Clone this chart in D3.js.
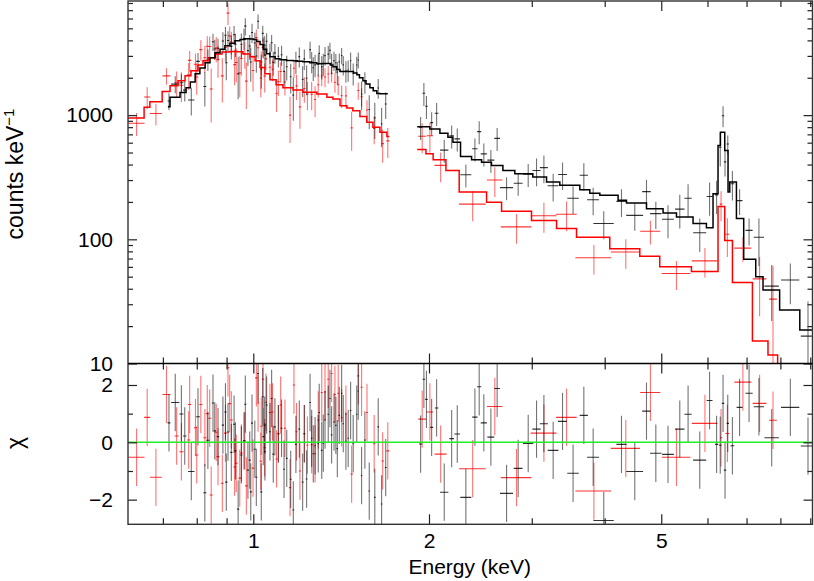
<!DOCTYPE html>
<html>
<head>
<meta charset="utf-8">
<script src="https://cdn.jsdelivr.net/npm/d3@7"></script>
<style>
    body { margin: 0; background: #fff; }
    svg { display: block; font-family: "Liberation Sans", Arial, Helvetica, sans-serif; }
</style>
</head>
<body>
<div id="chart"></div>
<script>
// model curves: [energy keV, counts keV^-1], drawn as steps
const blackModelLo = [[0.714,1170],[0.720,1390],[0.749,1524],[0.767,1663],[0.780,1850],[0.795,2150],[0.810,2400],[0.827,2640],[0.843,2900],[0.860,3178],[0.877,3400],[0.894,3616],[0.912,3800],[0.930,3966],[0.949,4070],[0.968,4115],[0.987,4110],[1.000,4060],[1.013,3920],[1.027,3700],[1.040,3400],[1.054,3120],[1.068,2951],[1.090,2850],[1.111,2791],[1.140,2760],[1.170,2740],[1.190,2720],[1.216,2690],[1.250,2640],[1.285,2592],[1.310,2610],[1.337,2606],[1.355,2530],[1.369,2453],[1.390,2330],[1.408,2248],[1.430,2250],[1.464,2248],[1.485,2180],[1.505,2115],[1.520,2000],[1.541,1893],[1.560,1780],[1.584,1663],[1.605,1570],[1.628,1496],[1.650,1490],[1.700,1490]];
const redModelLo = [[0.610,950],[0.650,1155],[0.665,1283],[0.698,1553],[0.720,1726],[0.743,1893],[0.764,2076],[0.782,2278],[0.804,2531],[0.820,2740],[0.837,2896],[0.860,3100],[0.884,3225],[0.912,3254],[0.938,3236],[0.960,3101],[0.987,2951],[1.007,2740],[1.027,2421],[1.047,2154],[1.068,1928],[1.094,1758],[1.124,1663],[1.170,1594],[1.216,1530],[1.285,1480],[1.337,1395],[1.369,1349],[1.408,1192],[1.447,1142],[1.481,1087],[1.523,973],[1.565,875],[1.603,798],[1.648,728],[1.694,672],[1.710,672]];
const blackModelHi = [[1.909,808],[2.007,775],[2.088,714],[2.155,663],[2.198,605],[2.265,464],[2.366,437],[2.461,418],[2.559,393],[2.677,358],[2.806,337],[3.012,317],[3.180,289],[3.351,272],[3.626,251],[3.772,235],[3.924,226],[4.217,206],[4.359,196],[4.717,176],[5.036,163],[5.309,151],[5.668,134],[5.975,124],[6.133,233],[6.255,569],[6.314,728],[6.423,519],[6.507,240],[6.551,289],[6.726,147],[6.922,69],[7.258,50],[7.470,39],[7.976,27],[8.636,18.6],[9.087,18.6]];
const redModelHi = [[1.909,528],[1.976,488],[2.033,437],[2.138,358],[2.253,240],[2.510,199],[2.663,168],[2.997,142],[3.308,122],[3.579,104],[4.081,84],[4.594,73],[4.970,60],[5.632,55],[6.255,184],[6.423,98],[6.621,45],[7.164,15.2],[7.618,11.7],[7.913,8.9],[8.200,8.9]];

// data points: [energy, half bin width, counts, error, chi]
const blackPoints = [
    [0.717,0.004,1300,200,0.68],[0.735,0.012,1776,278,1.39],[0.753,0.006,1825,305,0.99],[0.763,0.005,1590,305,0.22],
    [0.783,0.010,1325,333,-1.02],[0.804,0.006,2710,460,0.89],[0.826,0.005,1700,524,-1.76],[0.836,0.005,2820,556,0.07],
    [0.853,0.004,3900,612,1.37],[0.859,0.004,3410,632,0.40],[0.870,0.004,3460,666,0.20],[0.887,0.004,3950,706,0.60],
    [0.896,0.004,4400,726,1.06],[0.899,0.004,2640,730,-1.39],[0.905,0.004,3990,744,0.36],[0.917,0.004,3580,770,-0.35],
    [0.927,0.004,4440,788,0.63],[0.932,0.004,3730,794,-0.30],[0.942,0.004,2150,806,-2.33],[0.954,0.004,3720,816,-0.44],
    [0.964,0.004,4150,822,0.05],[0.969,0.004,5210,823,1.33],[0.979,0.004,3310,822,-0.97],[0.986,0.004,3600,822,-0.62],
    [0.990,0.004,2680,820,-1.73],[0.995,0.004,4630,816,0.67],[1.006,0.004,3810,800,-0.24],[1.012,0.004,2990,792,-1.22],
    [1.019,0.004,5700,770,2.40],[1.032,0.004,2350,720,-1.73],[1.038,0.004,4550,690,1.59],[1.040,0.004,3540,680,0.20],
    [1.046,0.004,3670,656,0.60],[1.047,0.004,3045,652,-0.33],[1.054,0.004,3930,624,1.30],[1.068,0.004,3170,590,0.37],
    [1.075,0.004,3830,586,1.53],[1.082,0.004,2660,580,-0.41],[1.089,0.004,3170,572,0.54],[1.104,0.004,2980,562,0.30],
    [1.118,0.004,3060,557,0.49],[1.129,0.004,2250,554,-0.94],[1.141,0.004,2450,552,-0.56],[1.159,0.004,2040,549,-1.29],
    [1.171,0.004,1450,548,-2.36],[1.183,0.004,2690,545,-0.07],[1.199,0.004,2960,542,0.46],[1.215,0.004,1940,538,-1.39],
    [1.223,0.004,2840,536,0.30],[1.234,0.004,1980,533,-1.28],[1.251,0.004,3370,528,1.39],[1.259,0.004,2700,526,0.14],
    [1.267,0.004,2405,523,-0.40],[1.276,0.004,2540,520,-0.12],[1.292,0.004,2570,519,-0.05],[1.297,0.004,3140,520,1.04],
    [1.310,0.004,2460,522,-0.28],[1.318,0.004,2600,522,-0.03],[1.327,0.004,3015,522,0.78],[1.344,0.004,3100,518,0.98],
    [1.353,0.004,3320,508,1.53],[1.362,0.004,2620,498,0.26],[1.375,0.004,2750,482,0.71],[1.385,0.004,2640,472,0.59],
    [1.393,0.004,2220,464,-0.22],[1.404,0.004,2685,452,0.94],[1.417,0.004,3020,450,1.71],[1.426,0.004,2540,450,0.65],
    [1.441,0.004,2270,450,0.04],[1.454,0.004,2310,450,0.14],[1.468,0.004,2740,448,1.11],[1.483,0.004,2170,438,-0.05],
    [1.504,0.004,2530,423,0.98],[1.513,0.004,2780,410,1.79],[1.533,0.004,1480,386,-1.16],[1.553,0.005,1850,364,0.08],
    [1.580,0.005,1110,336,-1.70],[1.615,0.005,950,308,-1.92],[1.637,0.005,1655,299,0.54],[1.659,0.005,850,298,-2.15],
    [1.686,0.006,1230,298,-0.88],
    [1.935,0.012,798,168,-0.06],[1.960,0.010,1502,315,2.20],[1.980,0.010,1180,248,1.50],[2.021,0.012,870,183,0.52],
    [2.061,0.015,1036,218,1.20],[2.124,0.035,523,110,-1.74],[2.187,0.020,681,143,0.13],[2.236,0.025,644,135,0.29],
    [2.313,0.050,331,70,-1.92],[2.397,0.025,536,113,0.88],[2.438,0.020,737,155,1.94],[2.483,0.030,488,102,0.68],
    [2.553,0.035,434,91,0.18],[2.617,0.030,650,136,1.88],[2.716,0.070,261,55,-1.78],[2.843,0.050,283,59,-0.91],
    [2.958,0.060,334,70,-0.04],[3.057,0.050,358,90,0.46],[3.147,0.050,378,95,0.65],[3.264,0.070,270,68,-0.28],
    [3.387,0.060,333,83,0.73],[3.531,0.080,214,54,-1.08],[3.684,0.060,328,82,0.94],[3.822,0.090,208,52,-0.52],
    [3.985,0.160,134,34,-2.73],[4.274,0.085,202,51,-0.07],[4.504,0.150,156,39,-1.02],[4.717,0.080,242,60,1.09],
    [4.894,0.110,161,40,-0.38],[5.135,0.120,145,43,-0.42],[5.379,0.100,175,53,0.46],[5.558,0.080,214,64,0.98],
    [5.820,0.150,113,34,-0.62],[6.050,0.070,221,66,1.46],[6.220,0.040,228,68,-0.07],[6.310,0.030,552,166,-0.10],
    [6.380,0.030,990,190,1.36],[6.430,0.030,420,100,-0.97],[6.500,0.030,585,100,0.66],[6.620,0.050,280,75,-0.12],
    [6.810,0.080,205,48,1.22],[7.070,0.100,118,29,1.71],[7.350,0.150,104,43,1.24],[7.730,0.220,42,20,0.16],
    [8.320,0.300,47,17,1.22],[8.920,0.250,16.6,15,-0.13]
];
const redPoints = [
    [0.631,0.020,860,180,-0.52],[0.658,0.008,1400,280,0.87],[0.681,0.016,1030,205,-1.22],[0.710,0.011,2070,310,1.67],
    [0.739,0.006,1820,430,0.22],[0.753,0.006,1740,470,-0.33],[0.775,0.005,2110,520,0.08],[0.778,0.005,2760,520,1.32],
    [0.796,0.005,2570,570,0.51],[0.800,0.005,2030,570,-0.44],[0.813,0.005,3370,633,1.32],[0.826,0.005,2900,700,0.16],
    [0.834,0.005,3590,718,1.00],[0.842,0.005,3570,737,0.84],[0.847,0.005,1625,752,-1.84],[0.864,0.005,3465,796,0.35],
    [0.870,0.005,2800,800,-0.50],[0.885,0.005,2070,806,-1.43],[0.896,0.005,3500,810,0.32],[0.905,0.005,6630,1300,2.60],
    [0.911,0.005,4350,814,1.35],[0.917,0.005,3880,812,0.78],[0.929,0.005,2550,811,-0.86],[0.935,0.005,2650,810,-0.73],
    [0.948,0.005,2190,795,-1.25],[0.954,0.005,2860,788,-0.37],[0.967,0.005,3130,772,0.05],[0.973,0.005,1880,758,-1.52],
    [0.999,0.005,2290,740,-0.90],[1.012,0.005,4220,675,2.25],[1.019,0.005,3490,650,1.37],[1.030,0.005,1990,595,-0.66],
    [1.032,0.005,2680,588,0.56],[1.039,0.005,3500,565,2.20],[1.046,0.005,2060,540,-0.19],[1.051,0.005,2840,525,1.40],
    [1.068,0.005,2430,482,1.04],[1.079,0.005,2340,462,1.06],[1.096,0.005,1500,439,-0.58],[1.104,0.005,1860,432,0.30],
    [1.114,0.005,2245,424,1.30],[1.133,0.005,1850,412,0.49],[1.156,0.005,1000,404,-1.58],[1.174,0.005,2385,398,2.00],
    [1.186,0.005,1720,394,0.37],[1.202,0.005,1165,388,-1.00],[1.223,0.005,1640,381,0.30],[1.238,0.005,1475,379,-0.10],
    [1.259,0.005,1470,375,-0.08],[1.276,0.005,1335,371,-0.40],[1.292,0.005,1755,368,0.78],[1.310,0.005,2065,360,1.74],
    [1.327,0.005,2030,352,1.76],[1.344,0.005,2145,346,2.20],[1.362,0.005,2175,340,2.40],[1.380,0.005,1840,325,1.67],
    [1.398,0.005,1755,308,1.71],[1.417,0.005,1435,295,0.86],[1.441,0.005,1430,288,0.98],[1.474,0.006,790,274,-1.11],
    [1.513,0.006,1580,250,2.32],[1.533,0.006,1405,238,1.92],[1.566,0.006,1100,219,1.04],[1.611,0.007,780,198,-0.05],
    [1.666,0.008,590,176,-0.65],[1.700,0.010,620,168,-0.30],
    [1.947,0.030,676,183,0.81],[2.007,0.025,683,184,1.06],[2.094,0.050,394,106,-0.41],[2.376,0.125,192,52,-0.92],
    [2.593,0.080,300,81,1.25],[2.825,0.170,126,34,-1.23],[3.147,0.160,155,42,0.32],[3.441,0.140,159,43,0.87],
    [3.833,0.270,71,19,-1.70],[4.347,0.250,79,21,-0.21],[4.791,0.190,116,25,1.74],[5.309,0.300,53,14,-0.52],
    [5.940,0.300,67,18,0.66],[6.330,0.030,192,52,0.16],[6.490,0.050,110,38,0.31],[6.900,0.230,85,19,2.10],
    [7.370,0.200,48,24,1.36],[7.770,0.120,33,28,0.77]
];

// axis ticks
const xMajorTicks = [1, 2, 5];
const xMinorTicks = [0.7, 0.8, 0.9, 3, 4, 6, 7, 8, 9];
const yMajorTicks = [10, 100, 1000];
const yMinorTicks = [20,30,40,50,60,70,80,90,200,300,400,500,600,700,800,900,2000,3000,4000,5000,6000,7000,8000];
const chiMajorTicks = [-2, 0, 2];
const chiMinorTicks = [-1, 1];

const W = 814, H = 581;
const pLeft = 128, pRight = 812.5, pTop = 1, pMid = 363.5, pBottom = 524.3;

const svg = d3.select("#chart").append("svg")
    .attr("width", W)
    .attr("height", H);

const x = d3.scaleLog().domain([0.61, 9.08]).range([pLeft, pRight]);
const y = d3.scaleLog().domain([10, 8300]).range([pMid, pTop]);
const yChi = d3.scaleLinear().domain([-2.86, 2.75]).range([pBottom, pMid]);

// clip each panel
const defs = svg.append("defs");
defs.append("clipPath").attr("id", "clipTop").append("rect")
    .attr("x", pLeft).attr("y", pTop).attr("width", pRight - pLeft).attr("height", pMid - pTop);
defs.append("clipPath").attr("id", "clipBot").append("rect")
    .attr("x", pLeft).attr("y", pMid).attr("width", pRight - pLeft).attr("height", pBottom - pMid);

const topG = svg.append("g").attr("clip-path", "url(#clipTop)");
const botG = svg.append("g").attr("clip-path", "url(#clipBot)");

// error crosses in the spectrum panel
function drawCrosses(g, pts, color) {
    const c = g.append("g").attr("stroke", color).attr("stroke-width", 1.1).attr("fill", "none");
    c.selectAll(".v").data(pts).enter().append("line")
        .attr("stroke-opacity", 0.55)
        .attr("x1", d => x(d[0])).attr("x2", d => x(d[0]))
        .attr("y1", d => y(Math.max(d[2] - d[3], 1)))
        .attr("y2", d => y(d[2] + d[3]));
    c.selectAll(".h").data(pts).enter().append("line")
        .attr("stroke-opacity", 0.8)
        .attr("x1", d => x(d[0] - d[1])).attr("x2", d => x(d[0] + d[1]))
        .attr("y1", d => y(d[2])).attr("y2", d => y(d[2]));
}

// residual crosses (chi +/- 1)
function drawResiduals(g, pts, color) {
    const c = g.append("g").attr("stroke", color).attr("stroke-width", 1.1).attr("fill", "none");
    c.selectAll(".v").data(pts).enter().append("line")
        .attr("stroke-opacity", 0.55)
        .attr("x1", d => x(d[0])).attr("x2", d => x(d[0]))
        .attr("y1", d => yChi(d[4] - 1)).attr("y2", d => yChi(d[4] + 1));
    c.selectAll(".h").data(pts).enter().append("line")
        .attr("stroke-opacity", 0.8)
        .attr("x1", d => x(d[0] - d[1])).attr("x2", d => x(d[0] + d[1]))
        .attr("y1", d => yChi(d[4])).attr("y2", d => yChi(d[4]));
}

drawCrosses(topG, redPoints, "#ff0000");
drawCrosses(topG, blackPoints, "#000000");

const step = d3.line()
    .x(d => x(d[0]))
    .y(d => y(d[1]))
    .curve(d3.curveStepAfter);

[[redModelLo, "#ff0000"], [redModelHi, "#ff0000"], [blackModelLo, "#000"], [blackModelHi, "#000"]].forEach(([m, col]) => {
    topG.append("path")
        .attr("d", step(m))
        .attr("fill", "none")
        .attr("stroke", col)
        .attr("stroke-width", 1.5);
});

drawResiduals(botG, redPoints, "#ff0000");
drawResiduals(botG, blackPoints, "#000000");

// zero line
botG.append("line")
    .attr("x1", pLeft).attr("x2", pRight)
    .attr("y1", yChi(0)).attr("y2", yChi(0))
    .attr("stroke", "#22ee22")
    .attr("stroke-width", 1.6);

// axes (ticks point inward)
const axes = svg.append("g").attr("font-size", 21);

function styleAxis(g) {
    g.select(".domain").remove();
    g.selectAll(".tick line").attr("stroke", "#222").attr("stroke-width", 1.2);
    g.selectAll(".tick text").attr("fill", "#000").attr("font-size", 21)
        .attr("font-family", "'Liberation Sans', Arial, Helvetica, sans-serif");
}

// x ticks on every horizontal edge
[[pTop, "top"], [pMid, "bottom"], [pMid, "top"], [pBottom, "bottom"]].forEach(([yy, side]) => {
    const mk = side === "top" ? d3.axisTop : d3.axisBottom;
    axes.append("g").attr("transform", `translate(0,${yy})`)
        .call(mk(x).tickValues(xMajorTicks).tickSize(-10).tickFormat(""))
        .call(styleAxis);
    axes.append("g").attr("transform", `translate(0,${yy})`)
        .call(mk(x).tickValues(xMinorTicks).tickSize(-6).tickFormat(""))
        .call(styleAxis);
});

// x labels
axes.append("g").attr("transform", `translate(0,${pBottom})`)
    .call(d3.axisBottom(x).tickValues(xMajorTicks).tickSize(0).tickPadding(9).tickFormat(d3.format("d")))
    .call(styleAxis);

// y ticks for the spectrum panel
axes.append("g").attr("transform", `translate(${pLeft},0)`)
    .call(d3.axisLeft(y).tickValues(yMajorTicks).tickSize(-9).tickPadding(15).tickFormat(d3.format("d")))
    .call(styleAxis);
axes.append("g").attr("transform", `translate(${pLeft},0)`)
    .call(d3.axisLeft(y).tickValues(yMinorTicks).tickSize(-5).tickFormat(""))
    .call(styleAxis);
axes.append("g").attr("transform", `translate(${pRight},0)`)
    .call(d3.axisRight(y).tickValues(yMajorTicks).tickSize(-9).tickFormat(""))
    .call(styleAxis);
axes.append("g").attr("transform", `translate(${pRight},0)`)
    .call(d3.axisRight(y).tickValues(yMinorTicks).tickSize(-5).tickFormat(""))
    .call(styleAxis);

// y ticks for the residual panel
axes.append("g").attr("transform", `translate(${pLeft},0)`)
    .call(d3.axisLeft(yChi).tickValues(chiMajorTicks).tickSize(-9).tickPadding(15)
        .tickFormat(d => d < 0 ? "\u2212" + Math.abs(d) : d))
    .call(styleAxis);
axes.append("g").attr("transform", `translate(${pLeft},0)`)
    .call(d3.axisLeft(yChi).tickValues(chiMinorTicks).tickSize(-5).tickFormat(""))
    .call(styleAxis);
axes.append("g").attr("transform", `translate(${pRight},0)`)
    .call(d3.axisRight(yChi).tickValues(chiMajorTicks).tickSize(-9).tickFormat(""))
    .call(styleAxis);
axes.append("g").attr("transform", `translate(${pRight},0)`)
    .call(d3.axisRight(yChi).tickValues(chiMinorTicks).tickSize(-5).tickFormat(""))
    .call(styleAxis);

// frame
svg.append("rect")
    .attr("x", pLeft).attr("y", pTop)
    .attr("width", pRight - pLeft).attr("height", pBottom - pTop)
    .attr("fill", "none").attr("stroke", "#333").attr("stroke-width", 1.4);
svg.append("line")
    .attr("x1", pLeft).attr("x2", pRight).attr("y1", pMid).attr("y2", pMid)
    .attr("stroke", "#000").attr("stroke-width", 1.6);

// axis titles
svg.append("text")
    .attr("x", (pLeft + pRight) / 2 - 0.5)
    .attr("y", 574)
    .attr("text-anchor", "middle")
    .attr("font-size", 21)
    .text("Energy (keV)");

const yTitle = svg.append("text")
    .attr("transform", "translate(23,174) rotate(-90)")
    .attr("text-anchor", "middle")
    .attr("font-size", 23);
yTitle.append("tspan").text("counts keV");
yTitle.append("tspan").attr("font-size", 15).attr("dy", -9).text("\u22121");

svg.append("text")
    .attr("transform", "translate(23,443) rotate(-90)")
    .attr("text-anchor", "middle")
    .attr("font-size", 23)
    .text("\u03c7");
</script>
</body>
</html>
